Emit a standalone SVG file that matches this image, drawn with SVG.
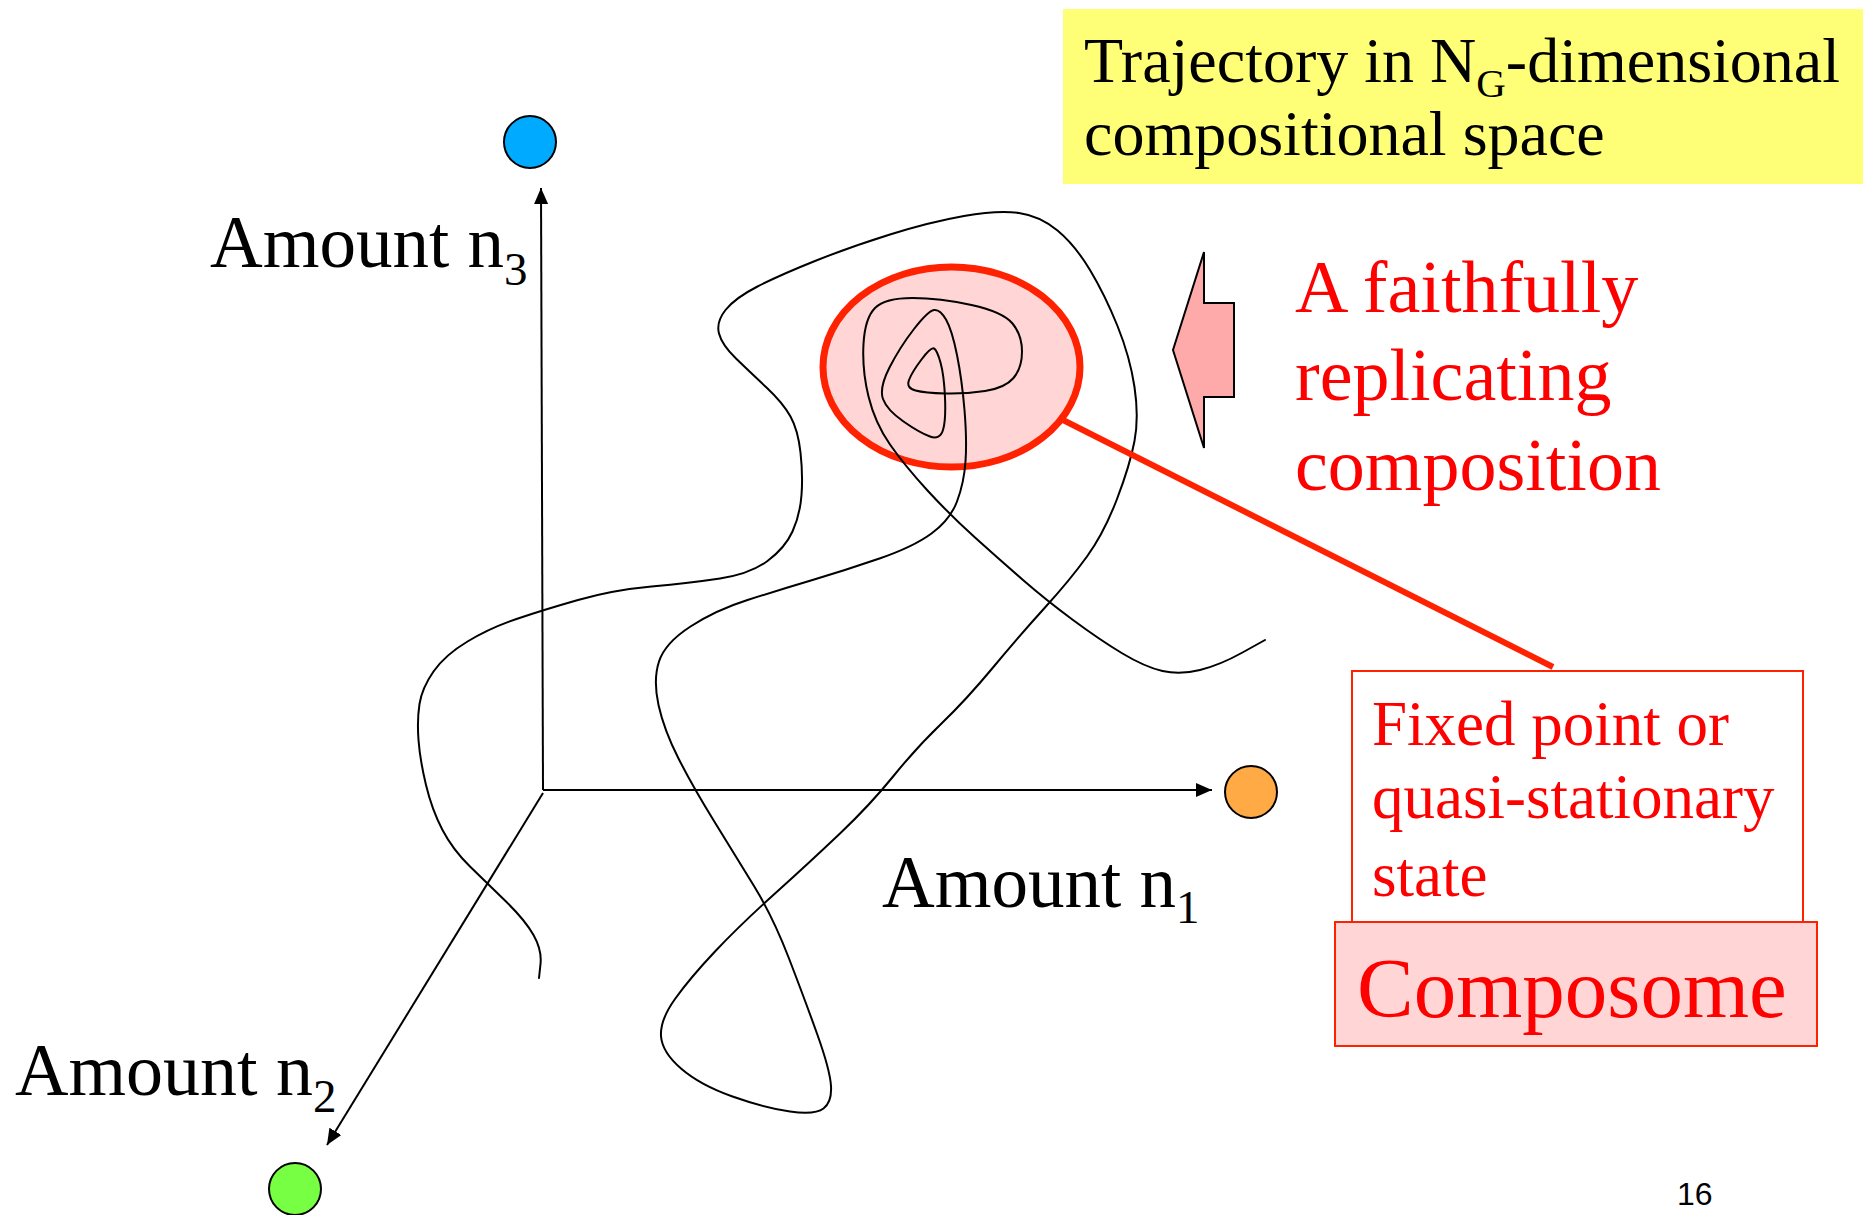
<svg xmlns="http://www.w3.org/2000/svg" width="1863" height="1215" viewBox="0 0 1863 1215">
<style>
.serif{font-family:"Liberation Serif","Times New Roman",serif;}
.blk{fill:#000;}
.red{fill:#FF0000;}
.dot{stroke:#000;stroke-width:2;}
.axis{stroke:#000;stroke-width:2;fill:none;}
.traj{stroke:#000;stroke-width:2;fill:none;stroke-linejoin:round;stroke-linecap:round;}
.rbox{stroke:#FF2200;stroke-width:2;}
</style>
<defs>
<marker id="ah" viewBox="0 0 16 14" refX="16" refY="7" markerWidth="16" markerHeight="14" markerUnits="userSpaceOnUse" orient="auto">
<path d="M0,0 L16,7 L0,14 Z" fill="#000"/>
</marker>
</defs>
<rect width="1863" height="1215" fill="#fff"/>

<g id="title-box">
<rect x="1063" y="9" width="800" height="175" fill="#FFFF77"/>
<text class="serif blk" x="1084" y="82" font-size="64">Trajectory in N<tspan font-size="41" baseline-shift="-15">G</tspan>-dimensional</text>
<text class="serif blk" x="1084" y="155" font-size="64">compositional space</text>
</g>

<g id="composition-ellipse">
<ellipse cx="951.5" cy="367" rx="128.5" ry="100" fill="#FFD5D5" stroke="#FF2200" stroke-width="7"/>
</g>

<g id="trajectory">
<path class="traj" d="M539,978 L540.5,964 Q542,950 533.5,935 Q525,920 506,901.5 Q487,883 470,866.5 Q453,850 442.5,830 Q432,810 426,785 Q420,760 418.5,740 Q417,720 419.5,704 Q422,688 433.5,671.5 Q445,655 467.5,641.5 Q490,628 516.5,619 Q543,610 578,600 Q613,590 651.5,586.5 Q690,583 720,578.5 Q750,574 767.5,561 Q785,548 792.5,531.5 Q800,515 801.5,495 Q803,475 800.5,452.5 Q798,430 790.5,416.5 Q783,403 766.5,387.5 Q750,372 736,358.5 Q722,345 719,333.5 Q716,322 725.5,310 Q735,298 757.5,286.5 Q780,275 815,261 Q850,247 890,234.5 Q930,222 964,216 Q998,210 1019,213 Q1040,216 1057.5,230.5 Q1075,245 1090,270 Q1105,295 1117.5,326 Q1130,357 1134.5,387 Q1139,417 1134.5,441 Q1130,465 1117,499 Q1104,533 1087,556.5 Q1070,580 1045,607.5 Q1020,635 993,667.5 Q966,700 941.5,723.5 Q917,747 893.5,776 Q870,805 840,833.5 Q810,862 775,893.5 Q740,925 715,951.5 Q690,978 675,999 Q660,1020 661,1036 Q662,1052 681,1068.5 Q700,1085 732.5,1096.5 Q765,1108 790,1111.5 Q815,1115 823.5,1108.5 Q832,1102 831,1086 Q830,1070 817.5,1035 Q805,1000 789,958.5 Q773,917 754,886 Q735,855 714,821 Q693,787 678.5,758.5 Q664,730 658.5,705 Q653,680 659,661.5 Q665,643 690.5,626.5 Q716,610 747.5,600 Q779,590 812.5,580 Q846,570 879.5,558.5 Q913,547 931.5,533.5 Q950,520 957,501.5 Q964,483 965.5,461.5 Q967,440 964.5,410 Q962,380 957,355 Q952,330 946,319.5 Q940,309 934,310 Q928,311 914,329 Q900,347 889.5,367.5 Q879,388 883,399 Q887,410 903.5,421.5 Q920,433 930,436.5 Q940,440 943,430 Q946,420 945,397.5 Q944,375 940.5,362.5 Q937,350 934,348.5 Q931,347 921.5,359.5 Q912,372 909,380 Q906,388 915.5,390.5 Q925,393 945,393.5 Q965,394 985,391 Q1005,388 1013.5,378 Q1022,368 1022,351.5 Q1022,335 1012.5,323.5 Q1003,312 971.5,305 Q940,298 912.5,298 Q885,298 875,308 Q865,318 863.5,344 Q862,370 868.5,396.5 Q875,423 890,444.5 Q905,466 927.5,490.5 Q950,515 975,537.5 Q1000,560 1023,580 Q1046,600 1073,620 Q1100,640 1122.5,653.5 Q1145,667 1162.5,671 Q1180,675 1200,670 Q1220,665 1242.5,652.5 L1265,640"/>
</g>

<g id="connectors">
<line class="axis" x1="543" y1="790" x2="541" y2="188" marker-end="url(#ah)"/>
<line class="axis" x1="543" y1="790" x2="1212" y2="790" marker-end="url(#ah)"/>
<line class="axis" x1="543" y1="793" x2="327" y2="1145" marker-end="url(#ah)"/>
<line x1="1063" y1="420" x2="1553" y2="667" stroke="#FF2200" stroke-width="6"/>
</g>

<g id="node-n3">
<circle class="dot" cx="530" cy="142" r="26" fill="#00AAFF"/>
<text class="serif blk" x="210" y="267" font-size="73">Amount n<tspan font-size="47" dy="18">3</tspan></text>
</g>

<g id="node-n1">
<circle class="dot" cx="1251" cy="792" r="26" fill="#FFAA44"/>
<text class="serif blk" x="882" y="907" font-size="73">Amount n<tspan font-size="47" dy="16">1</tspan></text>
</g>

<g id="node-n2">
<circle class="dot" cx="295" cy="1189" r="26" fill="#77FF44"/>
<text class="serif blk" x="15" y="1095" font-size="74">Amount n<tspan font-size="47" dy="17">2</tspan></text>
</g>

<g id="pointer-arrow">
<path d="M1173,350 L1204,252 L1204,303 L1234,303 L1234,397 L1204,397 L1204,448 Z" fill="#FFAAAA" stroke="#000" stroke-width="2"/>
</g>

<g id="replicating-label">
<text class="serif red" x="1295" y="312" font-size="74">A faithfully</text>
<text class="serif red" x="1295" y="400" font-size="74">replicating</text>
<text class="serif red" x="1295" y="490" font-size="74">composition</text>
</g>

<g id="fixed-point-box">
<rect class="rbox" x="1352" y="671" width="451" height="251" fill="#fff"/>
<text class="serif red" x="1372" y="745" font-size="63">Fixed point or</text>
<text class="serif red" x="1372" y="818" font-size="63">quasi-stationary</text>
<text class="serif red" x="1372" y="896" font-size="63">state</text>
</g>

<g id="composome-box">
<rect class="rbox" x="1335" y="922" width="482" height="124" fill="#FFD5D5"/>
<text class="serif red" x="1357" y="1017" font-size="85">Composome</text>
</g>

<g id="page-number">
<text x="1677" y="1205" font-size="32" font-family="Liberation Sans, Arial, sans-serif" fill="#000">16</text>
</g>
</svg>
